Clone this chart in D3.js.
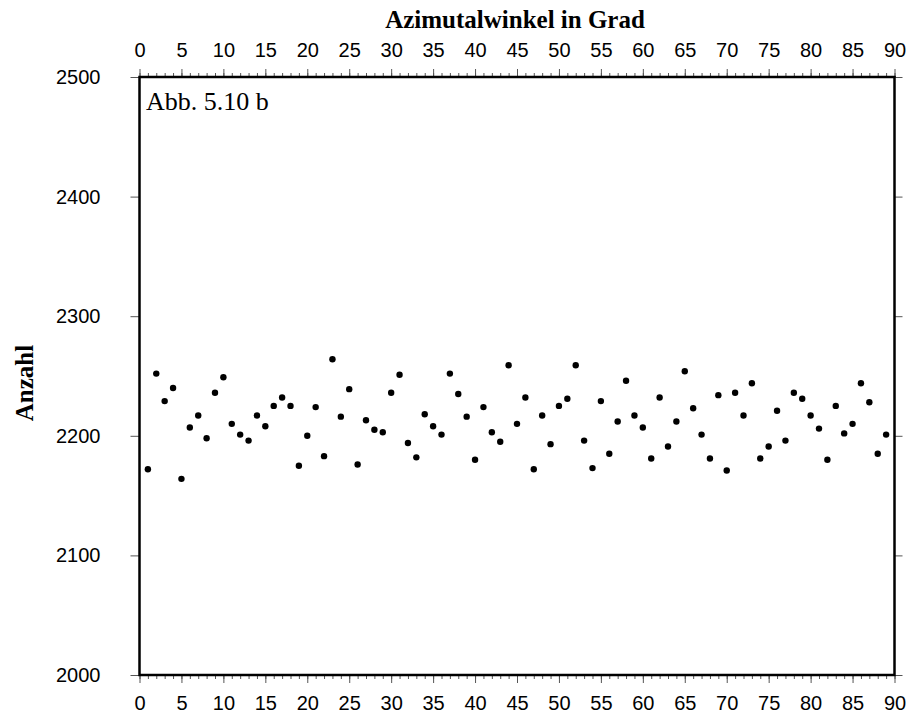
<!DOCTYPE html>
<html><head><meta charset="utf-8">
<script src="https://cdn.jsdelivr.net/npm/d3@7"></script>
<style>body{margin:0;background:#fff}</style>
</head><body>
<svg id="c" width="908" height="717"></svg>
<script>
const angles = d3.range(1, 90);
const counts = [2172,2252,2229,2240,2164,2207,2217,2198,2236,2249,
2210,2201,2196,2217,2208,2225,2232,2225,2175,2200,
2224,2183,2264,2216,2239,2176,2213,2205,2203,2236,
2251,2194,2182,2218,2208,2201,2252,2235,2216,2180,
2224,2203,2195,2259,2210,2232,2172,2217,2193,2225,
2231,2259,2196,2173,2229,2185,2212,2246,2217,2207,
2181,2232,2191,2212,2254,2223,2201,2181,2234,2171,
2236,2217,2244,2181,2191,2221,2196,2236,2231,2217,
2206,2180,2225,2202,2210,2244,2228,2185,2201];
const xTicks = d3.range(0, 91, 5);
const yTicks = [2000, 2100, 2200, 2300, 2400, 2500];
const xTitle = "Azimutalwinkel in Grad";
const yTitle = "Anzahl";
const label = "Abb. 5.10 b";

const svg = d3.select("#c");
const L = 139.5, R = 894.5, T = 77, B = 675;
const x = d3.scaleLinear().domain([0, 90]).range([L, R]);
const y = d3.scaleLinear().domain([2000, 2500]).range([B, T]);
const sans = "'Liberation Sans', Arial, sans-serif";
const serif = "'Liberation Serif', 'Times New Roman', serif";

function styleAxis(g) {
  g.select(".domain").remove();
  g.selectAll("line").attr("stroke", "#555").attr("stroke-width", 1);
  g.selectAll("text").attr("font-family", sans).attr("font-size", 20).attr("fill", "#000");
}
// minor x ticks
const minor = d3.range(0, 91, 1);
svg.append("g").attr("transform", `translate(0,${T})`)
  .call(d3.axisTop(x).tickValues(minor).tickSize(4).tickFormat("")).call(styleAxis);
svg.append("g").attr("transform", `translate(0,${B})`)
  .call(d3.axisBottom(x).tickValues(minor).tickSize(4).tickFormat("")).call(styleAxis);
// major x ticks
svg.append("g").attr("transform", `translate(0,${T})`)
  .call(d3.axisTop(x).tickValues(xTicks).tickSize(8).tickPadding(12).tickFormat(d3.format("d"))).call(styleAxis);
svg.append("g").attr("transform", `translate(0,${B})`)
  .call(d3.axisBottom(x).tickValues(xTicks).tickSize(8).tickPadding(13).tickFormat(d3.format("d"))).call(styleAxis);
// y ticks
svg.append("g").attr("transform", `translate(${L},0)`)
  .call(d3.axisLeft(y).tickValues(yTicks).tickSize(9).tickPadding(30).tickFormat(d3.format("d"))).call(styleAxis);
svg.append("g").attr("transform", `translate(${R},0)`)
  .call(d3.axisRight(y).tickValues(yTicks).tickSize(8).tickFormat("")).call(styleAxis);

// frame
svg.append("rect").attr("x", L).attr("y", T).attr("width", R - L).attr("height", B - T)
  .attr("fill", "none").attr("stroke", "#000").attr("stroke-width", 2.5);

// points
svg.append("g").selectAll("circle").data(angles).join("circle")
  .attr("cx", (d) => x(d)).attr("cy", (d, i) => y(counts[i])).attr("r", 3.2).attr("fill", "#000");

// titles
svg.append("text").attr("x", 515).attr("y", 28).attr("text-anchor", "middle")
  .attr("font-family", serif).attr("font-weight", "bold").attr("font-size", 25).text(xTitle);
svg.append("text").attr("transform", "translate(33,383) rotate(-90)").attr("text-anchor", "middle")
  .attr("font-family", serif).attr("font-weight", "bold").attr("font-size", 25).text(yTitle);
svg.append("text").attr("x", 146).attr("y", 110)
  .attr("font-family", serif).attr("font-size", 26).text(label);
</script>
</body></html>
